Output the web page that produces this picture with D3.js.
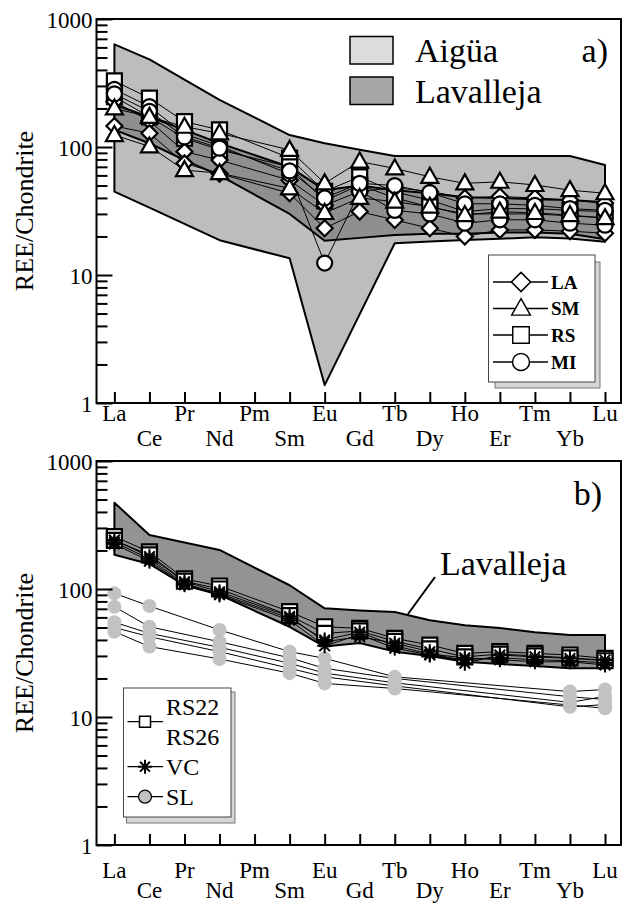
<!DOCTYPE html>
<html>
<head>
<meta charset="utf-8">
<script src="https://cdn.jsdelivr.net/npm/d3@7"></script>
<style>
  body { margin: 0; background: #fff; }
</style>
</head>
<body>
<svg id="chart" width="625" height="905"></svg>
<script>
// ---------- data ----------
const ELEMENTS = ["La","Ce","Pr","Nd","Pm","Sm","Eu","Gd","Tb","Dy","Ho","Er","Tm","Yb","Lu"];
const Y_TICKS = [1, 10, 100, 1000];

// panel a) fields
const AIGUA_HI = [634,484,null,233,null,124,107,95,85,85,85,85,85,85,72.4];
const AIGUA_LO = [44.8,33.6,null,18.7,null,13.5,1.38,null,17.7,18.3,18.8,19.2,19.7,19.3,18.2];
const LAV_A_HI = [214,172,136,107,null,70,46,50,46,43.5,40.5,40,39,38.5,37];
const LAV_A_LO = [136,107,79,60,null,30,18.5,19.5,20.5,21,21,21.5,21.5,21,19];

// panel a) samples
const LA_1 = [226,160,92,79,null,55,35,45,48,45,40,41,40,38.5,36.5];
const LA_2 = [146,128,74.5,62,null,43.5,23.2,31.3,26.9,23.2,20,22.5,22.5,22,21.2];
const SM_1 = [200,172,144,128,null,95,52,77,68,58.5,52,53.5,50.5,46,43.5];
const SM_2 = [124,101,66,62.5,null,47.5,30.5,40,37.4,34.2,29.4,31.3,30.5,29.4,27.8];
const RS_1 = [328,241,158,136,null,82,45,58.5,44.5,38.5,31.3,33,33,32,31.3];
const RS_2 = [247,172,117,95,null,70,38,50.5,40,34,30,30,30,29,28];
const MI_1 = [282,207,126,102,null,61.5,12.4,45,32,30,25.4,27,27,25.4,24.5];
const MI_2 = [260,190,120,98,null,65,40,52,50,44,36,36,35,33,32];

// panel b) field
const LAV_B_HI = [472,264,null,202,null,107,70.6,68,66,57,52,49.6,46,43.7,43.7];
const LAV_B_LO = [185,157,107,90,null,50.7,35.5,37.8,32.4,30,27,26,25,24,24];

// panel b) samples
const RS22 = [257,195,120,105.5,null,66.5,50.7,49.3,41.2,36.5,31.4,32.4,31.4,30.5,28.7];
const RS26 = [240,185,115,100,null,62,45,47,39,34,29.5,31,30,29,27.5];
const VC_1 = [241,179,114,95,null,61,38.7,42.4,37.7,32.4,26.3,30.5,29.5,28.7,27.9];
const VC_2 = [225,165,108,90,null,57,36,44,34.5,30.5,28,29,28,27.5,26.5];
const VC_3 = [232,172,110,92,null,59,40,46,36,31,29,28,27,27,25.5];
const SL_1 = [92.5,73.6,null,47.9,null,32.4,28.7,null,20.6,null,null,null,null,15.8,16.4];
const SL_2 = [72.7,50.7,null,38.7,null,29,24,null,20,null,null,null,null,14.4,13.7];
const SL_3 = [55,45,null,35,null,26.3,22,null,18.5,null,null,null,null,13,14.5];
const SL_4 = [50,42.4,null,32.4,null,24,20.6,null,17.5,null,null,null,null,12,12.5];
const SL_5 = [46.4,35.5,null,28.4,null,22,18.3,null,16.7,null,null,null,null,12.4,11.7];

// ---------- setup ----------
const FONT = "'Liberation Serif', 'DejaVu Serif', serif";
const svg = d3.select("#chart");
const x = d3.scalePoint().domain(ELEMENTS).range([114.4, 605]);
const LEFT = 96.5, RIGHT = 621;

const toPts = arr => arr.map((v, i) => ({el: ELEMENTS[i], v})).filter(d => d.v != null);

const shapes = {
  diamond: "M0,-8L8,0L0,8L-8,0Z",
  triangle: "M0,-9L8.5,6L-8.5,6Z",
  square: "M-7.5,-7.5h15v15h-15Z"
};

function asterisk(g, cx, cy, r) {
  const a = g.append("g").attr("transform", `translate(${cx},${cy})`)
    .attr("stroke", "#000").attr("stroke-width", 2);
  [0, 45, 90, 135].forEach(ang => {
    const rad = ang * Math.PI / 180;
    a.append("line")
      .attr("x1", -r * Math.cos(rad)).attr("y1", -r * Math.sin(rad))
      .attr("x2", r * Math.cos(rad)).attr("y2", r * Math.sin(rad));
  });
}

function panel(top, bottom) {
  const y = d3.scaleLog().domain([1, 1000]).range([bottom, top]);
  const g = svg.append("g");
  const line = d3.line().x(d => x(d.el)).y(d => y(d.v));
  return {y, g, line};
}

function field(p, hi, lo, fill) {
  const hp = toPts(hi), lp = toPts(lo);
  const outline = hp.map(d => [x(d.el), p.y(d.v)])
    .concat(lp.reverse().map(d => [x(d.el), p.y(d.v)]));
  p.g.append("path")
    .attr("d", "M" + outline.join("L") + "Z")
    .attr("fill", fill)
    .attr("stroke", "#000")
    .attr("stroke-width", 2)
    .attr("stroke-linejoin", "round");
}

function series(p, arr) {
  p.g.append("path")
    .datum(toPts(arr))
    .attr("d", p.line)
    .attr("fill", "none")
    .attr("stroke", "#000")
    .attr("stroke-width", 1);
}

function markers(p, arr, type) {
  const pts = toPts(arr);
  if (type === "circle") {
    p.g.selectAll(null).data(pts).enter().append("circle")
      .attr("cx", d => x(d.el)).attr("cy", d => p.y(d.v)).attr("r", 7.5)
      .attr("fill", "#fff").attr("stroke", "#000").attr("stroke-width", 2.2);
  } else if (type === "gray") {
    p.g.selectAll(null).data(pts).enter().append("circle")
      .attr("cx", d => x(d.el)).attr("cy", d => p.y(d.v)).attr("r", 7)
      .attr("fill", "#c2c2c2");
  } else if (type === "star") {
    pts.forEach(d => asterisk(p.g, x(d.el), p.y(d.v), 7.5));
  } else {
    p.g.selectAll(null).data(pts).enter().append("path")
      .attr("transform", d => `translate(${x(d.el)},${p.y(d.v)})`)
      .attr("d", shapes[type])
      .attr("fill", "#fff").attr("stroke", "#000").attr("stroke-width", 2.2)
      .attr("stroke-linejoin", "miter");
  }
}

function axes(p, top, bottom, rowY1, rowY2) {
  const minors = [];
  [1, 10, 100].forEach(b => { for (let k = 2; k <= 9; k++) minors.push(b * k); });

  p.g.append("g").attr("transform", `translate(${LEFT},0)`)
    .call(d3.axisLeft(p.y).tickValues(minors).tickSize(-11).tickFormat(""))
    .call(a => a.select(".domain").remove())
    .call(a => a.selectAll("line").attr("stroke-width", 2));

  p.g.append("g").attr("transform", `translate(${LEFT},0)`)
    .call(d3.axisLeft(p.y).tickValues(Y_TICKS).tickSize(-16).tickFormat(d3.format("d")))
    .call(a => a.select(".domain").remove())
    .call(a => a.selectAll("line").attr("stroke-width", 2))
    .call(a => a.selectAll("text")
      .attr("x", -4).attr("dy", "0.35em")
      .attr("font-size", 23).attr("fill", "#000"));

  p.g.append("g").attr("transform", `translate(0,${bottom})`)
    .call(d3.axisBottom(x).tickSize(-11).tickFormat(""))
    .call(a => a.select(".domain").remove())
    .call(a => a.selectAll("line").attr("stroke-width", 2));

  p.g.selectAll(null).data(ELEMENTS).enter().append("text")
    .attr("x", d => x(d))
    .attr("y", (d, i) => i % 2 === 0 ? rowY1 : rowY2)
    .attr("text-anchor", "middle")
    .attr("font-size", 23)
    .text(d => d);

  p.g.append("rect")
    .attr("x", LEFT).attr("y", top)
    .attr("width", RIGHT - LEFT).attr("height", bottom - top)
    .attr("fill", "none").attr("stroke", "#000").attr("stroke-width", 2);

  p.g.append("text")
    .attr("transform", `translate(33,${(top + bottom) / 2}) rotate(-90)`)
    .attr("text-anchor", "middle")
    .attr("font-size", 26)
    .text("REE/Chondrite");
}

// ---------- panel a ----------
const pa = panel(19, 403);
field(pa, AIGUA_HI, AIGUA_LO, "#bdbdbd");
field(pa, LAV_A_HI, LAV_A_LO, "#8f8f8f");
[LA_1, LA_2, SM_1, SM_2, RS_1, RS_2, MI_1, MI_2].forEach(s => series(pa, s));
markers(pa, RS_1, "square"); markers(pa, RS_2, "square");
markers(pa, LA_1, "diamond"); markers(pa, LA_2, "diamond");
markers(pa, MI_1, "circle"); markers(pa, MI_2, "circle");
markers(pa, SM_1, "triangle"); markers(pa, SM_2, "triangle");
axes(pa, 19, 403, 421, 446);

// field legend
const fl = svg.append("g");
[["Aigüa", "#dcdcdc", 36.5], ["Lavalleja", "#a6a6a6", 77]].forEach(([name, col, yy]) => {
  fl.append("rect").attr("x", 350).attr("y", yy).attr("width", 43).attr("height", 27.5)
    .attr("fill", col).attr("stroke", "#000").attr("stroke-width", 1.5);
  fl.append("text").attr("x", 415).attr("y", yy + 25.5).attr("font-size", 34).text(name);
});
fl.append("text").attr("x", 608).attr("y", 62).attr("text-anchor", "end").attr("font-size", 34).text("a)");

// symbol legend
const sl = svg.append("g");
sl.append("rect").attr("x", 495).attr("y", 262).attr("width", 105).attr("height", 126)
  .attr("fill", "#d6d6d6").attr("stroke", "#777").attr("stroke-width", 1);
sl.append("rect").attr("x", 488.5).attr("y", 255).attr("width", 106.5).attr("height", 127)
  .attr("fill", "#fff").attr("stroke", "#444").attr("stroke-width", 1);
[["LA", "diamond", 282], ["SM", "triangle", 308.5], ["RS", "square", 335], ["MI", "circle", 362]]
  .forEach(([name, type, yy]) => {
    sl.append("line").attr("x1", 493).attr("x2", 548).attr("y1", yy).attr("y2", yy)
      .attr("stroke", "#000").attr("stroke-width", 1.5);
    if (type === "circle") {
      sl.append("circle").attr("cx", 521).attr("cy", yy).attr("r", 8.5)
        .attr("fill", "#fff").attr("stroke", "#000").attr("stroke-width", 1.5);
    } else {
      const sc = type === "diamond" ? 1.2 : 1.1;
      sl.append("path").attr("d", shapes[type])
        .attr("transform", `translate(521,${yy}) scale(${sc})`)
        .attr("fill", "#fff").attr("stroke", "#000").attr("stroke-width", 1.3);
    }
    sl.append("text").attr("x", 551).attr("y", yy).attr("dy", "0.35em")
      .attr("font-size", 19).attr("font-weight", "bold").text(name);
  });

// ---------- panel b ----------
const pb = panel(461, 845);
field(pb, LAV_B_HI, LAV_B_LO, "#939393");
[SL_1, SL_2, SL_3, SL_4, SL_5].forEach(s => series(pb, s));
[SL_1, SL_2, SL_3, SL_4, SL_5].forEach(s => markers(pb, s, "gray"));
[RS22, RS26, VC_1, VC_2, VC_3].forEach(s => series(pb, s));
markers(pb, RS22, "square"); markers(pb, RS26, "square");
[VC_1, VC_2, VC_3].forEach(s => markers(pb, s, "star"));
axes(pb, 461, 845, 878, 898);

const bl = svg.append("g");
bl.append("text").attr("x", 602).attr("y", 505).attr("text-anchor", "end").attr("font-size", 34).text("b)");
bl.append("text").attr("x", 440).attr("y", 575).attr("font-size", 34).text("Lavalleja");
bl.append("line").attr("x1", 435).attr("y1", 577).attr("x2", 408).attr("y2", 614)
  .attr("stroke", "#000").attr("stroke-width", 2);

// sample legend
bl.append("rect").attr("x", 126.5).attr("y", 692).attr("width", 108.5).attr("height", 131)
  .attr("fill", "#d6d6d6").attr("stroke", "#777").attr("stroke-width", 1);
bl.append("rect").attr("x", 123.5).attr("y", 688).attr("width", 107.5).attr("height", 129)
  .attr("fill", "#fff").attr("stroke", "#444").attr("stroke-width", 1);
[721.7, 766.7, 796.7].forEach(yy => {
  bl.append("line").attr("x1", 127.5).attr("x2", 163).attr("y1", yy).attr("y2", yy)
    .attr("stroke", "#000").attr("stroke-width", 1.3);
});
bl.append("path").attr("d", "M-5.5,-5.5h11v11h-11Z").attr("transform", "translate(145,721.7)")
  .attr("fill", "#fff").attr("stroke", "#000").attr("stroke-width", 1.5);
asterisk(bl, 145, 766.7, 7);
bl.append("circle").attr("cx", 145).attr("cy", 796.7).attr("r", 6.5)
  .attr("fill", "#c2c2c2").attr("stroke", "#000").attr("stroke-width", 1.3);
[["RS22", 706.7], ["RS26", 736.7], ["VC", 766.7], ["SL", 796.7]].forEach(([t, yy]) => {
  bl.append("text").attr("x", 166).attr("y", yy).attr("dy", "0.35em").attr("font-size", 24).text(t);
});

// one serif face for every label
svg.selectAll("text").style("font-family", FONT);
</script>
</body>
</html>
